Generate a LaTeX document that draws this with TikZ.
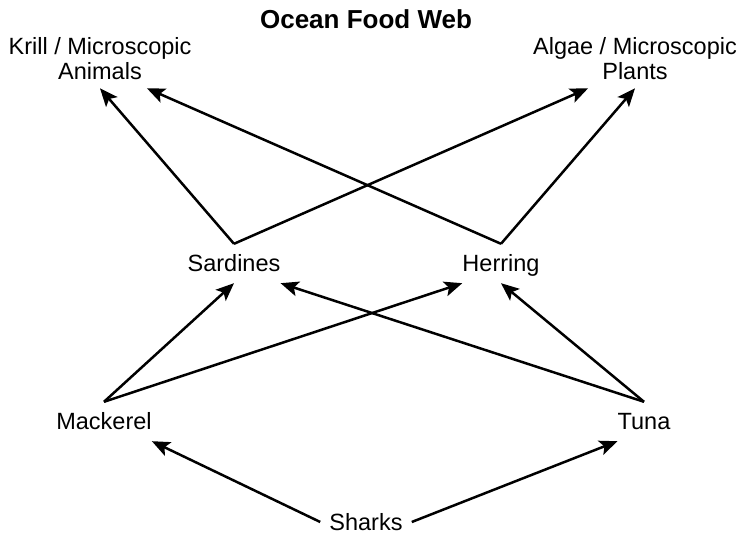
\documentclass[tikz,border=0pt]{standalone}
\usepackage{fontspec}
\setmainfont{Liberation Sans}
\usepackage{tikz}
\usetikzlibrary{positioning}
\usetikzlibrary{arrows.meta}

\begin{document}
\begin{tikzpicture}[
                          x=1pt, y=1pt, on grid,
                          >={Stealth[length=18pt, width=15pt, inset=4pt]},
                          titlenode/.style={font=\fontsize{26}{28}\selectfont\bfseries, inner sep=0pt, text height=28pt, text depth=11pt},
                          speciesnode/.style={font=\fontsize{23.5}{25}\selectfont, inner xsep=0pt, inner ysep=0pt, text height=28pt, text depth=11pt},
                          groupnode/.style={font=\fontsize{23.5}{25}\selectfont, align=center, inner xsep=0pt, inner ysep=8pt},
                          link/.style={->, line width=2.5pt},
                      ]
                      \useasboundingbox (0,0) rectangle (747,535);
                      %Nodes
                      \node[titlenode]      (title)   at (366,514.5)                   {Ocean Food Web};
                      \node[groupnode]      (krill)   [below left=38.5 and 266 of title]    {Krill / Microscopic\\Animals};
                      \node[groupnode]      (algae)   [below right=38.5 and 269 of title]   {Algae / Microscopic\\Plants};
                      \node[speciesnode]    (sardines) [below right=204.5 and 134 of krill] {Sardines};
                      \node[speciesnode]    (herring) [right=267 of sardines]              {Herring};
                      \node[speciesnode]    (mackerel) [below left=158 and 130 of sardines] {Mackerel};
                      \node[speciesnode]    (tuna)    [below right=158 and 143 of herring]  {Tuna};
                      \node[speciesnode, inner xsep=9pt] (sharks) [below right=100.5 and 262 of mackerel] {Sharks};

                      %Lines
                      \draw[link] (sardines.north) -- (krill.south);
                      \draw[link] (sardines.north) -- (algae.212);
                      \draw[link] (herring.north) -- (krill.-32);
                      \draw[link] (herring.north) -- (algae.south);
                      \draw[link] (mackerel.north) -- (sardines.south);
                      \draw[link] (mackerel.north) -- (herring.south west);
                      \draw[link] (tuna.north) -- (sardines.south east);
                      \draw[link] (tuna.north) -- (herring.south);
                      \draw[link] (sharks.west) -- (mackerel.south east);
                      \draw[link] (sharks.east) -- (tuna.south west);
                  \end{tikzpicture}
\end{document}
